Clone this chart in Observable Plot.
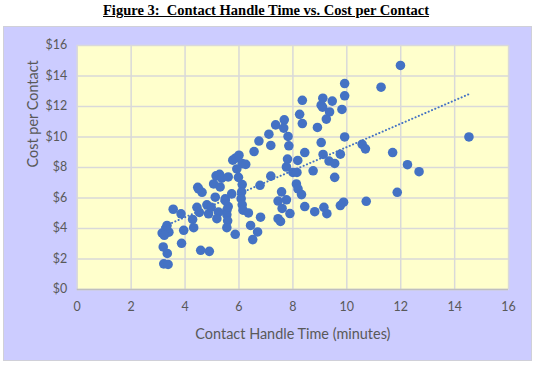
<!DOCTYPE html>
<html>
<head>
<meta charset="utf-8">
<script src="https://cdn.jsdelivr.net/npm/d3@7"></script>
<script src="https://cdn.jsdelivr.net/npm/@observablehq/plot@0.6"></script>
<style>
  html, body { margin: 0; padding: 0; background: #ffffff; }
  #wrap { position: relative; width: 538px; height: 366px; }
  #title { position: absolute; left: 0; top: 2px; width: 532px; text-align: center;
    font-family: "Liberation Serif", "Times New Roman", serif; font-weight: bold; font-size: 14.5px;
    text-decoration: underline; color: #000; white-space: pre; }
  #panel { position: absolute; left: 3px; top: 26px; width: 529px; height: 335px;
    background: #CCCCFF; border: 1px solid #d0d0d8; box-sizing: border-box; }
  #panel svg { position: absolute; left: -1px; top: -1px; }
</style>
</head>
<body>
<div id="wrap">
  <div id="title">Figure 3:  Contact Handle Time vs. Cost per Contact</div>
  <div id="panel"></div>
</div>
<script>
// Contact handle time (minutes)
const handleTime = [
  3.15, 3.29, 3.40, 3.23, 3.33, 3.19, 3.34, 3.21, 3.37, 3.56,
  3.85, 3.95, 3.87, 4.28, 4.32, 4.58, 4.90, 4.44, 4.53, 4.50,
  4.63, 4.47, 4.81, 4.87, 4.97, 5.12, 5.24, 5.18, 5.06, 5.15,
  5.28, 5.36, 5.30, 5.60, 5.49, 5.55, 5.55, 5.58, 5.55, 5.73,
  5.86, 5.60, 5.49, 5.77, 5.88, 6.00, 6.12, 6.25, 5.92, 5.98,
  6.12, 6.10, 6.08, 6.12, 6.15, 6.35, 6.80, 6.43, 6.69, 6.51,
  6.78, 7.18, 6.74, 7.18, 6.56, 7.11, 7.36, 7.68, 7.66, 7.82,
  7.85, 8.25, 8.35, 8.35, 7.80, 7.76, 8.18, 8.44, 8.00, 8.15,
  8.13, 8.19, 8.32, 7.58, 7.45, 7.76, 7.60, 7.89, 7.45, 7.54,
  8.44, 8.81, 8.75, 9.11, 9.05, 9.10, 9.46, 9.36, 9.24, 8.91,
  9.92, 9.92, 9.82, 9.92, 9.05, 9.12, 9.34, 9.55, 9.76, 9.55,
  9.15, 9.26, 9.76, 9.88, 10.57, 10.69, 10.72, 11.27, 11.99, 11.70,
  12.25, 12.68, 11.87, 14.53
];
// Cost per contact ($)
const costPerContact = [
  3.70, 4.03, 3.76, 3.55, 4.20, 2.79, 2.36, 1.68, 1.64, 5.26,
  4.96, 3.88, 3.03, 4.59, 4.05, 2.57, 2.50, 5.39, 5.05, 6.59,
  6.37, 6.70, 5.55, 4.96, 5.39, 6.05, 5.07, 4.64, 6.92, 7.45,
  7.55, 7.30, 6.72, 7.38, 5.94, 5.20, 4.90, 4.50, 4.05, 6.27,
  3.62, 5.44, 5.83, 8.48, 8.62, 8.80, 8.25, 8.20, 7.90, 7.35,
  6.88, 6.40, 5.95, 5.55, 5.20, 5.02, 4.74, 4.20, 3.77, 3.27,
  6.83, 7.43, 9.73, 9.44, 9.04, 10.18, 10.79, 11.12, 10.58, 10.03,
  9.42, 11.48, 12.40, 10.88, 8.55, 8.03, 8.46, 8.98, 7.67, 7.67,
  6.92, 6.59, 6.22, 6.40, 5.80, 5.88, 5.31, 4.98, 4.64, 4.46,
  5.44, 5.10, 7.78, 12.54, 12.08, 11.95, 12.35, 11.64, 11.17, 10.62,
  13.50, 12.70, 11.80, 10.00, 9.63, 8.85, 8.42, 8.26, 8.87, 7.35,
  5.39, 4.97, 5.50, 5.72, 9.52, 9.22, 5.78, 13.26, 14.69, 8.98,
  8.18, 7.72, 6.37, 10.00
];
const xTicks = [0, 2, 4, 6, 8, 10, 12, 14, 16];
const yTicks = [0, 2, 4, 6, 8, 10, 12, 14, 16];
const yTickLabels = ["$0", "$2", "$4", "$6", "$8", "$10", "$12", "$14", "$16"];

const data = handleTime.map((t, i) => ({ time: t, cost: costPerContact[i] }));

const blue = "#4472C4";
const grey = "#595959";

const chart = Plot.plot({
  width: 529,
  height: 335,
  marginLeft: 74,
  marginRight: 22,
  marginTop: 19,
  marginBottom: 71,
  style: { background: "transparent", fontFamily: "Lato, 'Open Sans', sans-serif", fontSize: "12px", color: grey, overflow: "visible" },
  x: { domain: [0, 16], ticks: xTicks, label: null },
  y: { domain: [0, 16], ticks: yTicks, label: null },
  marks: [
    Plot.frame({ fill: "#FFFFCC", stroke: null }),
    Plot.gridX(xTicks, { stroke: "#d9d9d9", strokeOpacity: 1, strokeWidth: 1.5 }),
    Plot.gridY(yTicks, { stroke: "#d9d9d9", strokeOpacity: 1, strokeWidth: 1.5 }),
    Plot.ruleY([0], { stroke: "#bfbfbf", strokeWidth: 1.5 }),
    Plot.axisX(xTicks, { tickSize: 0, tickPadding: 13, fontSize: 12.5, fill: grey, label: null }),
    Plot.axisY(yTicks, { tickSize: 0, tickPadding: 10, fontSize: 12.5, fill: grey, label: null,
      tickFormat: (d) => yTickLabels[yTicks.indexOf(d)] }),
    Plot.dot(data, { x: "time", y: "cost", r: 4.8, fill: blue, stroke: null }),
    Plot.linearRegressionY(data, { x: "time", y: "cost", stroke: blue, strokeWidth: 2, strokeDasharray: "0.1,3.5", strokeLinecap: "round", ci: 0 }),
    Plot.text(["Contact Handle Time (minutes)"], { frameAnchor: "bottom", dy: 45, fontSize: 14.5, fill: grey, lineAnchor: "middle" }),
    Plot.text(["Cost per Contact"], { frameAnchor: "left", dx: -44, rotate: -90, fontSize: 14.5, fill: grey })
  ]
});
document.getElementById("panel").appendChild(chart);
</script>
</body>
</html>
